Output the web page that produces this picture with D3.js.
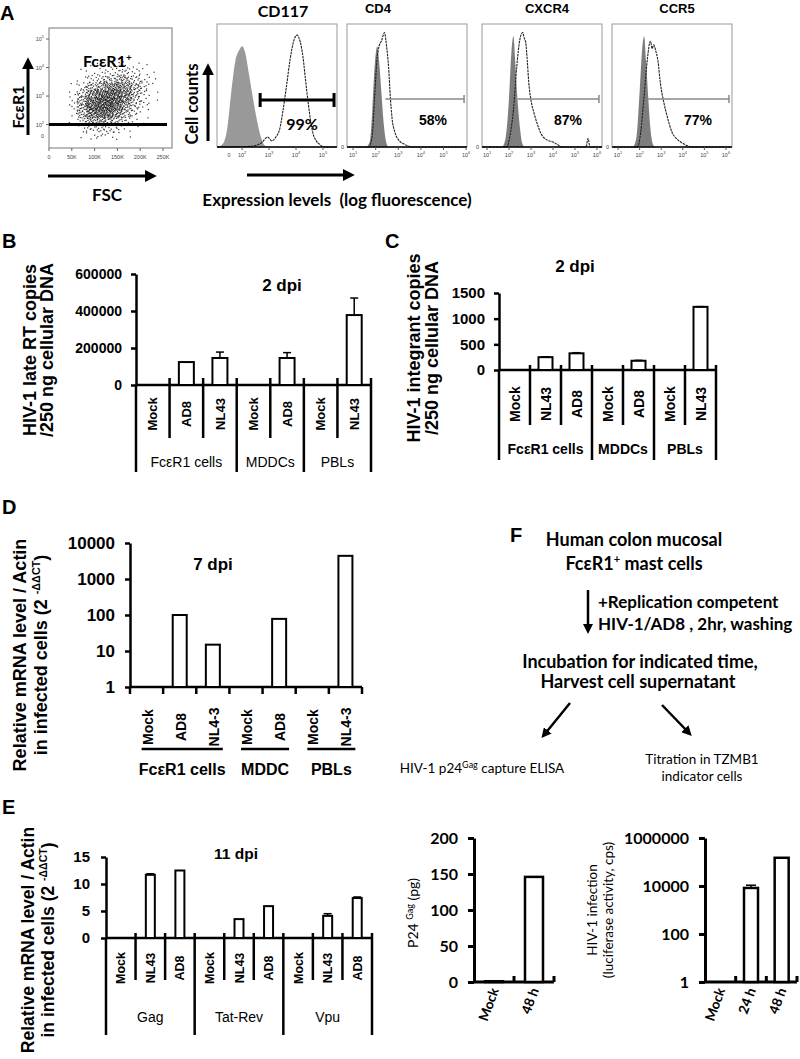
<!DOCTYPE html>
<html><head><meta charset="utf-8">
<script src="https://cdn.jsdelivr.net/npm/d3@7"></script>
<style>body{margin:0;background:#fff} svg{display:block}</style>
</head><body><div id="fig"></div>
<script>
// ---------------- data ----------------
// A: FcεR1 vs FSC dot plot, counts of events per cell (rows: FcεR1 log10 bins top->bottom, cols: FSC bins in K)
const fscEdges = [40,60,80,100,120,140,160,180,200,220,240];
const fceEdges = [4.25,4.0,3.75,3.5,3.25,3.0,2.75,2.5,2.25,2.0,1.75,1.5];
const scatterCounts = [
  [0,0,1,1,2,3,3,2,1,0],
  [0,1,2,3,5,7,7,5,2,1],
  [0,2,6,9,12,16,15,10,4,1],
  [1,6,14,20,26,30,26,15,6,1],
  [2,12,26,36,42,40,30,15,5,1],
  [3,18,36,46,50,42,28,12,4,1],
  [3,20,40,48,48,36,20,8,3,0],
  [2,15,32,38,36,25,12,5,1,0],
  [1,8,17,21,19,12,6,2,1,0],
  [0,3,7,9,8,5,2,1,0,0],
  [0,1,3,4,3,2,1,0,0,0]
];
const scatterXTicks = ["0","50K","100K","150K","200K","250K"];
const scatterYTicks = [2,3,4,5];

// A: histograms, [log10 fluorescence, % of max count]
const histTitles = ["CD117","CD4","CXCR4","CCR5"];
const histPercents = ["99%","58%","87%","77%"];
const cd117Iso = [[1.1,0],[1.3,3],[1.45,15],[1.6,45],[1.75,70],[1.9,79],[2.0,82],[2.1,78],[2.25,60],[2.4,40],[2.55,22],[2.7,8],[2.85,1],[3.0,0]];
const cd117Stain = [[1.1,0],[2.3,0.5],[2.7,3],[2.95,8],[3.1,5],[3.25,8],[3.4,15],[3.52,30],[3.65,50],[3.78,71],[3.9,85],[4.04,91],[4.15,86],[4.26,73],[4.35,55],[4.44,38],[4.55,20],[4.63,11],[4.75,5],[4.89,2],[5.0,0],[5.5,0]];
const cd4Iso = [[1.6,0],[1.75,5],[1.85,30],[1.95,65],[2.07,82],[2.15,70],[2.25,45],[2.35,20],[2.45,5],[2.55,0]];
const cd4Stain = [[0.8,0],[1.7,0],[1.85,10],[1.95,40],[2.05,70],[2.15,82],[2.25,86],[2.39,93],[2.48,82],[2.57,65],[2.65,40],[2.72,24],[2.85,12],[3.0,6],[3.3,2],[3.6,0],[6,0]];
const cxcr4Iso = [[1.7,0],[1.85,8],[2.0,40],[2.1,75],[2.2,90],[2.28,70],[2.38,40],[2.5,15],[2.6,3],[2.7,0]];
const cxcr4Stain = [[0.8,0],[1.9,0],[2.05,10],[2.2,30],[2.35,65],[2.5,88],[2.62,93],[2.7,88],[2.76,85],[2.83,70],[2.9,52],[3.0,38],[3.13,28],[3.3,18],[3.45,11],[3.7,6],[4.0,4],[4.2,2],[4.4,0],[5.5,0],[5.6,7],[5.68,0],[6.2,0]];
const ccr5Iso = [[1.7,0],[1.85,8],[2.0,45],[2.12,80],[2.21,90],[2.3,70],[2.4,40],[2.5,15],[2.6,3],[2.7,0]];
const ccr5Stain = [[0.8,0],[1.9,0],[2.05,12],[2.2,40],[2.35,70],[2.5,86],[2.58,80],[2.65,83],[2.75,78],[2.85,70],[2.96,52],[3.1,38],[3.29,24],[3.5,12],[3.76,6],[4.0,3],[4.22,1],[4.5,0],[6.2,0]];
const histGates = [[2.67,5.41],[2.43,5.91],[2.39,6.09],[2.40,6.14]];

// B: late RT copies, 2 dpi
const bCategories = ["Mock","AD8","NL43","Mock","AD8","Mock","NL43"];
const bValues = [0,124000,146000,0,146000,0,378000];
const bErrors = [0,0,32000,0,29000,0,92000];
const bGroups = ["FcεR1 cells","MDDCs","PBLs"];
const bGroupSizes = [3,2,2];
const bTicks = [0,200000,400000,600000];

// C: integrant copies, 2 dpi
const cCategories = ["Mock","NL43","AD8","Mock","AD8","Mock","NL43"];
const cValues = [0,250,325,0,180,0,1230];
const cErrors = [0,8,12,0,8,0,5];
const cGroups = ["FcεR1 cells","MDDCs","PBLs"];
const cGroupSizes = [3,2,2];
const cTicks = [0,500,1000,1500];

// D: relative mRNA, 7 dpi (log)
const dCategories = ["Mock","AD8","NL4-3","Mock","AD8","Mock","NL4-3"];
const dValues = [0,100,15,0,78,0,4400];
const dGroups = ["FcεR1 cells","MDDC","PBLs"];
const dGroupSizes = [3,2,2];
const dTicks = [1,10,100,1000,10000];

// E: relative mRNA, 11 dpi
const eCategories = ["Mock","NL43","AD8","Mock","NL43","AD8","Mock","NL43","AD8"];
const eValues = [0,11.7,12.5,0,3.5,5.9,0,4.1,7.4];
const eErrors = [0,0.2,0,0,0,0,0,0.4,0.2];
const eGroups = ["Gag","Tat-Rev","Vpu"];
const eGroupSizes = [3,3,3];
const eTicks = [0,5,10,15];

// F: p24 ELISA and TZMB1 titration
const p24Categories = ["Mock","48 h"];
const p24Values = [1,146];
const p24Ticks = [0,50,100,150,200];
const infCategories = ["Mock","24 h","48 h"];
const infValues = [0,8300,150000];
const infErrors = [0,2500,0];
const infTicks = [1,100,10000,1000000];

// ---------------- drawing ----------------
const W = 800, H = 1059;
const ARIAL = "'Liberation Sans', Arial, sans-serif";
const CALI = "Lato, 'Open Sans', sans-serif";

const svg = d3.select("#fig").append("svg")
    .attr("width", W).attr("height", H)
    .attr("font-family", ARIAL);
svg.append("rect").attr("width", W).attr("height", H).attr("fill", "#fff");

svg.append("defs").append("marker")
    .attr("id", "arr").attr("viewBox", "0 0 10 10")
    .attr("refX", 6).attr("refY", 5)
    .attr("markerWidth", 4).attr("markerHeight", 4)
    .attr("orient", "auto")
  .append("path").attr("d", "M0,0L10,5L0,10z").attr("fill", "#000");

function txt(g, x, y, s, o = {}) {
  return g.append("text").attr("x", x).attr("y", y)
      .attr("font-size", o.size || 14)
      .attr("font-weight", o.weight || "bold")
      .attr("font-family", o.family || null)
      .attr("text-anchor", o.anchor || "start")
      .attr("fill", o.fill || "#000")
      .text(s);
}
function rtxt(g, x, y, s, o = {}) {
  return g.append("text")
      .attr("transform", "translate(" + x + "," + y + ") rotate(" + (o.rot || -90) + ")")
      .attr("font-size", o.size || 14)
      .attr("font-weight", o.weight || "bold")
      .attr("font-family", o.family || null)
      .attr("text-anchor", o.anchor || "middle")
      .text(s);
}
function arrow(g, x1, y1, x2, y2, w) {
  g.append("line").attr("x1", x1).attr("y1", y1).attr("x2", x2).attr("y2", y2)
      .attr("stroke", "#000").attr("stroke-width", w || 3).attr("marker-end", "url(#arr)");
}
function halton(i, b) {
  let f = 1, r = 0;
  while (i > 0) { f /= b; r += f * (i % b); i = Math.floor(i / b); }
  return r;
}

// ----- panel letters -----
txt(svg, 0, 20, "A", {size: 20});
txt(svg, 2, 248, "B", {size: 20});
txt(svg, 385, 248, "C", {size: 20});
txt(svg, 2, 514, "D", {size: 20});
txt(svg, 510, 542, "F", {size: 20});
txt(svg, 2, 814, "E", {size: 20});

// ----- A: dot plot -----
const gA = svg.append("g");
const xS = d3.scaleLinear([0, 250], [49, 163]);
const yS = d3.scaleLinear([1.6, 5], [136, 39]);
gA.append("rect").attr("x", 49).attr("y", 28).attr("width", 123).attr("height", 120)
    .attr("fill", "none").attr("stroke", "#777").attr("stroke-width", 1);
let hi = 1;
scatterCounts.forEach((row, r) => {
  row.forEach((n, c) => {
    for (let k = 0; k < n; k++, hi++) {
      const fx = fscEdges[c] + halton(hi, 2) * (fscEdges[c + 1] - fscEdges[c]);
      const fy = fceEdges[r + 1] + halton(hi, 3) * (fceEdges[r] - fceEdges[r + 1]);
      gA.append("rect").attr("x", xS(fx)).attr("y", yS(fy))
          .attr("width", 1.2).attr("height", 1.2).attr("fill", "#111").attr("opacity", 0.85);
    }
  });
});
gA.append("line").attr("x1", 49).attr("x2", 167).attr("y1", yS(2)).attr("y2", yS(2))
    .attr("stroke", "#000").attr("stroke-width", 3);
scatterXTicks.forEach((t, i) => {
  const x = xS(i * 50);
  gA.append("line").attr("x1", x).attr("x2", x).attr("y1", 148).attr("y2", 151).attr("stroke", "#666");
  txt(gA, x, 159, t, {size: 5.5, weight: "normal", anchor: "middle", fill: "#444"});
});
scatterYTicks.forEach(d => {
  const t = txt(gA, 44, yS(d) + 2, "10", {size: 5.5, weight: "normal", anchor: "end", fill: "#444"});
  t.append("tspan").attr("dy", -3).attr("font-size", 4).text(d);
  gA.append("line").attr("x1", 46).attr("x2", 49).attr("y1", yS(d)).attr("y2", yS(d)).attr("stroke", "#666");
});
txt(gA, 44, yS(1.6) + 2, "0", {size: 5.5, weight: "normal", anchor: "end", fill: "#444"});
const fl = txt(gA, 83, 67, "FcεR1", {size: 16, family: CALI});
fl.append("tspan").attr("dy", -6).attr("font-size", 10).text("+");
rtxt(gA, 24, 107, "FcεR1", {size: 16, family: CALI});
arrow(gA, 28, 135, 28, 62, 3);
arrow(gA, 48, 176, 152, 176, 3);
txt(gA, 107, 201, "FSC", {size: 17, family: CALI, anchor: "middle"});

// ----- A: histograms -----
const histIso = [cd117Iso, cd4Iso, cxcr4Iso, ccr5Iso];
const histStain = [cd117Stain, cd4Stain, cxcr4Stain, ccr5Stain];
const histLeft = [217, 347, 482, 612];
const histDom = [[1.07, 5.52], [0.73, 6.04], [0.77, 6.23], [0.72, 6.28]];
const yH = d3.scaleLinear([0, 100], [147, 24]);
histTitles.forEach((title, i) => {
  const g = svg.append("g");
  const x = d3.scaleLinear(histDom[i], [histLeft[i], histLeft[i] + 120]);
  g.append("rect").attr("x", histLeft[i]).attr("y", 24).attr("width", 120).attr("height", 123)
      .attr("fill", "none").attr("stroke", "#999").attr("stroke-width", 1);
  const area = d3.area().x(d => x(d[0])).y0(yH(0)).y1(d => yH(d[1])).curve(d3.curveMonotoneX);
  const line = d3.line().x(d => x(d[0])).y(d => yH(d[1])).curve(d3.curveMonotoneX);
  g.append("path").attr("d", area(histIso[i])).attr("fill", i === 0 ? "#999" : "#7d7d7d");
  g.append("path").attr("d", line(histStain[i])).attr("fill", "none")
      .attr("stroke", "#222").attr("stroke-width", 1.1).attr("stroke-dasharray", "2.5,0.8");
  g.append("line").attr("x1", histLeft[i]).attr("x2", histLeft[i] + 120).attr("y1", 147).attr("y2", 147)
      .attr("stroke", "#000").attr("stroke-width", 1.5);
  const decs = i === 0 ? [2, 3, 4, 5] : [1, 2, 3, 4, 5, 6];
  decs.forEach(d => {
    g.append("line").attr("x1", x(d)).attr("x2", x(d)).attr("y1", 147).attr("y2", 150).attr("stroke", "#555");
    const t = txt(g, x(d), 157, "10", {size: 5.5, weight: "normal", anchor: "middle", fill: "#444"});
    t.append("tspan").attr("dy", -3).attr("font-size", 4).text(d);
  });
  if (i === 0) txt(g, x(1.52), 157, "0", {size: 5.5, weight: "normal", anchor: "middle", fill: "#444"});
  else txt(g, histLeft[i] - 3, 149, "0", {size: 5.5, weight: "normal", anchor: "end", fill: "#444"});
  const gx1 = x(histGates[i][0]), gx2 = x(histGates[i][1]);
  if (i === 0) {
    g.append("line").attr("x1", gx1).attr("x2", gx2).attr("y1", 100).attr("y2", 100).attr("stroke", "#000").attr("stroke-width", 3);
    [gx1, gx2].forEach(xx => g.append("line").attr("x1", xx).attr("x2", xx).attr("y1", 93).attr("y2", 107).attr("stroke", "#000").attr("stroke-width", 3));
    txt(g, 302, 130, histPercents[i], {size: 16, family: CALI, anchor: "middle"});
    txt(g, 283, 17, title, {size: 16, family: CALI, anchor: "middle"});
  } else {
    g.append("line").attr("x1", gx1).attr("x2", gx2).attr("y1", 99).attr("y2", 99).attr("stroke", "#888").attr("stroke-width", 1.5);
    g.append("line").attr("x1", gx2).attr("x2", gx2).attr("y1", 95).attr("y2", 103).attr("stroke", "#888").attr("stroke-width", 1.5);
    txt(g, histLeft[i] + 86, 125, histPercents[i], {size: 14, anchor: "middle"});
    txt(g, histLeft[i] + 31 + (i === 1 ? 0 : 34), 13, title, {size: 13, anchor: "middle"});
  }
});
rtxt(svg, 198, 104, "Cell counts", {size: 16.5, family: CALI});
arrow(svg, 208, 141, 208, 68, 3);
arrow(svg, 247, 175, 350, 175, 3);
txt(svg, 337, 206, "Expression levels\u00a0 (log fluorescence)", {size: 17, family: CALI, anchor: "middle"});

// ----- table style bar panels (B, C, E) -----
function tablePanel(o) {
  const g = svg.append("g");
  const n = o.cats.length;
  const x = d3.scaleBand().domain(d3.range(n)).range([o.x0, o.x1]);
  const base = o.y(0);
  g.append("g").attr("transform", "translate(" + o.x0 + ",0)")
      .call(d3.axisLeft(o.y).tickValues(o.ticks).tickSize(5).tickSizeOuter(0).tickPadding(o.pad).tickFormat(d3.format("d")))
      .call(a => {
        a.attr("font-family", ARIAL).attr("font-size", o.tickFont).attr("font-weight", "bold");
        a.select(".domain").attr("stroke-width", 2.5);
        a.selectAll(".tick line").attr("stroke-width", 2.5);
      });
  g.append("line").attr("x1", o.x0).attr("x2", o.x0).attr("y1", base).attr("y2", o.grpBot).attr("stroke", "#000").attr("stroke-width", 2.5);
  g.append("line").attr("x1", o.x0).attr("x2", o.x1).attr("y1", base).attr("y2", base).attr("stroke", "#000").attr("stroke-width", 2.5);
  const gEnds = d3.cumsum(o.sizes);
  d3.range(1, n + 1).forEach(i => {
    const xx = i < n ? x(i) : o.x1;
    const isG = gEnds.includes(i);
    g.append("line").attr("x1", xx).attr("x2", xx).attr("y1", base - o.sepUp).attr("y2", isG ? o.grpBot : o.sepBot)
        .attr("stroke", "#000").attr("stroke-width", 2.5);
  });
  const bars = o.vals.map((v, i) => ({v, i, e: o.errs[i]})).filter(d => d.v > 0);
  g.selectAll("rect.bar").data(bars).join("rect")
      .attr("x", d => x(d.i) + x.bandwidth() / 2 - o.barW / 2).attr("y", d => o.y(d.v))
      .attr("width", o.barW).attr("height", d => base - o.y(d.v))
      .attr("fill", "#fff").attr("stroke", "#000").attr("stroke-width", 2);
  bars.filter(d => d.e > 0).forEach(d => {
    const cx = x(d.i) + x.bandwidth() / 2;
    g.append("line").attr("x1", cx).attr("x2", cx).attr("y1", o.y(d.v)).attr("y2", o.y(d.v + d.e)).attr("stroke", "#000").attr("stroke-width", 1.5);
    g.append("line").attr("x1", cx - 4).attr("x2", cx + 4).attr("y1", o.y(d.v + d.e)).attr("y2", o.y(d.v + d.e)).attr("stroke", "#000").attr("stroke-width", 1.5);
  });
  o.cats.forEach((c, i) => {
    rtxt(g, x(i) + x.bandwidth() / 2 + o.catSize * 0.36, o.catY, c, {size: o.catSize});
  });
  let s = 0;
  o.groups.forEach((name, k) => {
    const a = s === 0 ? o.x0 : x(s);
    s += o.sizes[k];
    const b = s < n ? x(s) : o.x1;
    txt(g, (a + b) / 2, o.grpY, name, {size: o.grpSize, weight: o.grpWeight, anchor: "middle"});
  });
  return g;
}

// B
tablePanel({
  x0: 136, x1: 371, y: d3.scaleLinear([0, 600000], [385, 274]),
  ticks: bTicks, pad: 9, tickFont: 14,
  cats: bCategories, vals: bValues, errs: bErrors, groups: bGroups, sizes: bGroupSizes,
  barW: 15, sepUp: 7, sepBot: 438, grpBot: 472, catY: 414, catSize: 13,
  grpY: 467, grpSize: 14, grpWeight: "normal"
});
txt(svg, 282, 291, "2 dpi", {size: 17, anchor: "middle"});
rtxt(svg, 36, 350, "HIV-1 late RT copies", {size: 18});
rtxt(svg, 53, 350, "/250 ng cellular DNA", {size: 18});

// C
tablePanel({
  x0: 499, x1: 716, y: d3.scaleLinear([0, 1500], [370, 293]),
  ticks: cTicks, pad: 9, tickFont: 15,
  cats: cCategories, vals: cValues, errs: cErrors, groups: cGroups, sizes: cGroupSizes,
  barW: 14, sepUp: 5, sepBot: 425, grpBot: 460, catY: 404, catSize: 14,
  grpY: 454, grpSize: 14, grpWeight: "bold"
});
txt(svg, 575, 272, "2 dpi", {size: 17, anchor: "middle"});
rtxt(svg, 420, 348, "HIV-1 integrant copies", {size: 18});
rtxt(svg, 438, 348, "/250 ng cellular DNA", {size: 18});

// E
tablePanel({
  x0: 106, x1: 372, y: d3.scaleLinear([0, 15], [938, 857]),
  ticks: eTicks, pad: 11, tickFont: 15,
  cats: eCategories, vals: eValues, errs: eErrors, groups: eGroups, sizes: eGroupSizes,
  barW: 9, sepUp: 5, sepBot: 980, grpBot: 1035, catY: 968, catSize: 12.5,
  grpY: 1022, grpSize: 14, grpWeight: "normal"
});
txt(svg, 236, 859, "11 dpi", {size: 15.5, anchor: "middle"});

function mrnaTitle(cx1, cx2, cy, size) {
  rtxt(svg, cx1 + size * 0.36, cy, "Relative mRNA level / Actin", {size: size});
  const t = rtxt(svg, cx2 + size * 0.36, cy, "", {size: size});
  t.append("tspan").text("in infected cells (2 ");
  t.append("tspan").attr("dy", -7).attr("font-size", size * 0.6).text("-ΔΔCT");
  t.append("tspan").attr("dy", 7).text(")");
}
mrnaTitle(20, 41, 655, 18);
mrnaTitle(28, 48, 940, 17.5);

// ----- D: log bars -----
(function () {
  const g = svg.append("g");
  const y = d3.scaleLog([1, 10000], [687, 543]);
  const x = d3.scaleBand().domain(d3.range(dCategories.length)).range([130, 362]);
  const base = y(1);
  g.append("g").attr("transform", "translate(130,0)")
      .call(d3.axisLeft(y).tickValues(dTicks).tickSize(5).tickSizeOuter(0).tickPadding(10).tickFormat(d3.format("d")))
      .call(a => {
        a.attr("font-family", ARIAL).attr("font-size", 17).attr("font-weight", "bold");
        a.select(".domain").attr("stroke-width", 2.5);
        a.selectAll(".tick line").attr("stroke-width", 2.5);
      });
  g.append("line").attr("x1", 130).attr("x2", 362).attr("y1", base).attr("y2", base).attr("stroke", "#000").attr("stroke-width", 2.5);
  d3.range(0, dCategories.length + 1).forEach(i => {
    const xx = i < dCategories.length ? x(i) : 362;
    g.append("line").attr("x1", xx).attr("x2", xx).attr("y1", base).attr("y2", base + 7).attr("stroke", "#000").attr("stroke-width", 2.5);
  });
  const bars = dValues.map((v, i) => ({v, i})).filter(d => d.v > 0);
  g.selectAll("rect.bar").data(bars).join("rect")
      .attr("x", d => x(d.i) + x.bandwidth() / 2 - 7).attr("y", d => y(d.v))
      .attr("width", 14).attr("height", d => base - y(d.v))
      .attr("fill", "#fff").attr("stroke", "#000").attr("stroke-width", 2);
  dCategories.forEach((c, i) => rtxt(g, x(i) + x.bandwidth() / 2 + 6, 727, c, {size: 14}));
  let s = 0;
  dGroups.forEach((name, k) => {
    const a = x(s) + x.bandwidth() * 0.35;
    s += dGroupSizes[k];
    const b = x(s - 1) + x.bandwidth() * 0.8;
    g.append("line").attr("x1", a).attr("x2", b).attr("y1", 749).attr("y2", 749).attr("stroke", "#000").attr("stroke-width", 2.5);
    txt(g, (a + b) / 2, 775, name, {size: 16, anchor: "middle"});
  });
  txt(g, 213, 570, "7 dpi", {size: 17, anchor: "middle"});
})();

// ----- F: flow chart -----
const gF = svg.append("g").attr("font-family", CALI);
txt(gF, 634, 546, "Human colon mucosal", {size: 18, anchor: "middle"});
const fc = txt(gF, 634, 570, "FcεR1", {size: 18, anchor: "middle"});
fc.append("tspan").attr("dy", -7).attr("font-size", 11).text("+");
fc.append("tspan").attr("dy", 7).text(" mast cells");
arrow(gF, 588, 590, 588, 630, 2.5);
txt(gF, 598, 608, "+Replication competent", {size: 17});
txt(gF, 598, 630, "HIV-1/AD8 , 2hr, washing", {size: 17});
txt(gF, 640, 668, "Incubation for indicated time,", {size: 18, anchor: "middle"});
txt(gF, 638, 688, "Harvest cell supernatant", {size: 18, anchor: "middle"});
arrow(gF, 570, 703, 544, 735, 2.5);
arrow(gF, 662, 705, 689, 733, 2.5);
const el = txt(gF, 482, 773, "HIV-1 p24", {size: 13.5, weight: "normal", anchor: "middle"});
el.append("tspan").attr("dy", -5).attr("font-size", 9).text("Gag");
el.append("tspan").attr("dy", 5).text(" capture ELISA");
txt(gF, 702, 764, "Titration in TZMB1", {size: 13.5, weight: "normal", anchor: "middle"});
txt(gF, 702, 781, "indicator cells", {size: 13.5, weight: "normal", anchor: "middle"});

// ----- small bar panels (p24, infection) -----
function smallPanel(o) {
  const g = svg.append("g");
  const x = d3.scaleBand().domain(d3.range(o.cats.length)).range([o.x0, o.x1]);
  const base = o.y.range()[0];
  g.append("g").attr("transform", "translate(" + o.x0 + ",0)")
      .call(d3.axisLeft(o.y).tickValues(o.ticks).tickSize(6).tickSizeOuter(0).tickPadding(10).tickFormat(d3.format("d")))
      .call(a => {
        a.attr("font-family", CALI).attr("font-size", 16).attr("font-weight", "bold");
        a.select(".domain").attr("stroke-width", 3);
        a.selectAll(".tick line").attr("stroke-width", 3);
      });
  g.append("line").attr("x1", o.x0).attr("x2", o.x1).attr("y1", base).attr("y2", base).attr("stroke", "#000").attr("stroke-width", 3);
  d3.range(1, o.cats.length + 1).forEach(i => {
    const xx = i < o.cats.length ? x(i) : o.x1;
    g.append("line").attr("x1", xx).attr("x2", xx).attr("y1", base).attr("y2", base - 6).attr("stroke", "#000").attr("stroke-width", 3);
  });
  const bars = o.vals.map((v, i) => ({v, i, e: o.errs ? o.errs[i] : 0})).filter(d => d.v > 0);
  g.selectAll("rect.bar").data(bars).join("rect")
      .attr("x", d => x(d.i) + x.bandwidth() / 2 - o.barW / 2).attr("y", d => o.y(d.v))
      .attr("width", o.barW).attr("height", d => Math.max(0.5, base - o.y(d.v)))
      .attr("fill", "#fff").attr("stroke", "#000").attr("stroke-width", 2.5);
  bars.filter(d => d.e > 0).forEach(d => {
    const cx = x(d.i) + x.bandwidth() / 2;
    g.append("line").attr("x1", cx).attr("x2", cx).attr("y1", o.y(d.v)).attr("y2", o.y(d.v + d.e)).attr("stroke", "#000").attr("stroke-width", 1.5);
    g.append("line").attr("x1", cx - 5).attr("x2", cx + 5).attr("y1", o.y(d.v + d.e)).attr("y2", o.y(d.v + d.e)).attr("stroke", "#000").attr("stroke-width", 1.5);
  });
  o.cats.forEach((c, i) => {
    rtxt(g, x(i) + x.bandwidth() / 2 + 5, base + 8, c, {size: 13.5, family: CALI, rot: -70, anchor: "end"});
  });
  return g;
}
smallPanel({x0: 474, x1: 554, y: d3.scaleLinear([0, 200], [982, 838]), ticks: p24Ticks,
  cats: p24Categories, vals: p24Values, barW: 18});
const pt = rtxt(svg, 418, 913, "P24 ", {size: 14, weight: "normal", family: CALI});
pt.append("tspan").attr("dy", -5).attr("font-size", 9).text("Gag");
pt.append("tspan").attr("dy", 5).text(" (pg)");

smallPanel({x0: 705, x1: 797, y: d3.scaleLog([1, 1000000], [982, 838]), ticks: infTicks,
  cats: infCategories, vals: infValues, errs: infErrors, barW: 14});
rtxt(svg, 597, 910, "HIV-1 infection", {size: 13.5, weight: "normal", family: CALI});
rtxt(svg, 613, 910, "(luciferase activity, cps)", {size: 13.5, weight: "normal", family: CALI});
</script>
</body></html>
